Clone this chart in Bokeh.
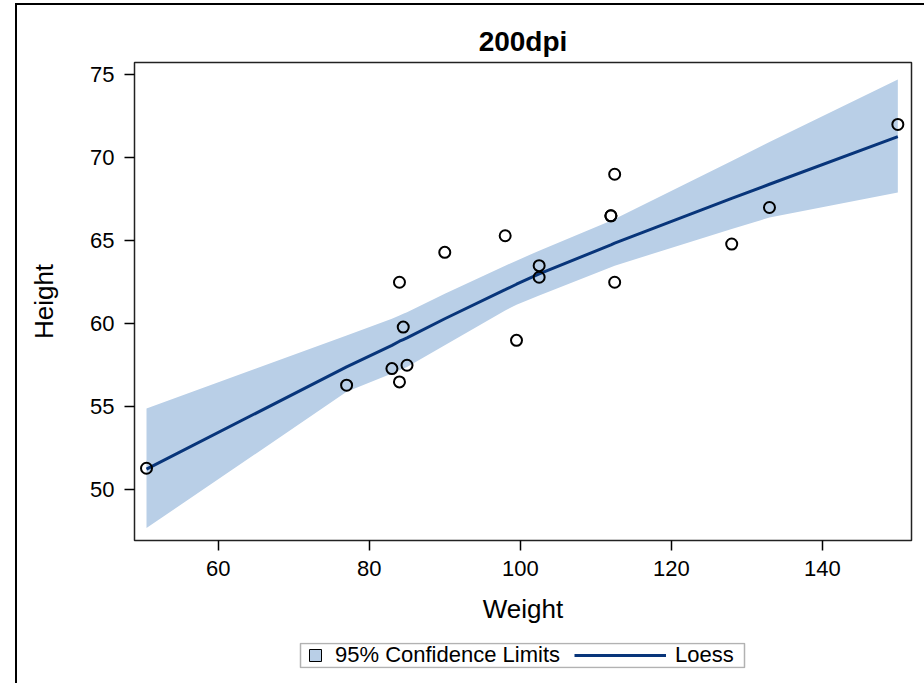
from bokeh.plotting import figure
from bokeh.layouts import column
from bokeh.models import (Range1d, Legend, LegendItem, ColumnDataSource, FixedTicker, Title,
                          BoxAnnotation)
from bokeh.embed import file_html
from bokeh.resources import INLINE

# ---- data (sashelp.class) ----
weight = [112.5, 84, 98, 102.5, 102.5, 83, 84.5, 112.5, 84, 99.5,
          50.5, 90, 77, 112, 150, 128, 133, 85, 112]
height = [69, 56.5, 65.3, 62.8, 63.5, 57.3, 59.8, 62.5, 62.5, 59,
          51.3, 64.3, 56.3, 66.5, 72, 64.8, 67, 57.5, 66.5]

# ---- loess fit and 95% confidence limits ----
fit_x = [50.5, 77, 83, 84, 84.5, 85, 90, 98, 99.5, 102.5, 112, 112.5, 128, 133, 150]
fit_y = [51.25, 57.4, 58.7, 58.95, 59.05, 59.15, 60.3, 62.05, 62.38, 63.0,
         64.75, 64.85, 67.55, 68.4, 71.27]
upper = [54.9, 59.3, 60.3, 60.5, 60.6, 60.7, 61.8, 63.5, 63.8, 64.4,
         66.2, 66.3, 69.8, 70.95, 74.7]
lower = [47.7, 55.9, 57.0, 57.2, 57.3, 57.4, 58.7, 60.8, 61.15, 61.7,
         63.4, 63.5, 65.7, 66.4, 67.9]

x_ticks = [60, 80, 100, 120, 140]
y_ticks = [50, 55, 60, 65, 70, 75]

FONT = "Liberation Sans"
BAND = "#B9CFE7"
LINE = "#08357A"
BL, BR = 117, 13   # shared left/right borders (frames are aligned in the column)

p = figure(width=907, height=625, output_backend="svg", toolbar_location=None,
           x_range=Range1d(48.91, 151.81), y_range=Range1d(46.95, 75.73),
           min_border_left=BL, min_border_right=BR, min_border_top=57,
           min_border_bottom=90)
p.background_fill_color = "white"
p.border_fill_color = "white"
p.grid.visible = False
p.outline_line_color = "#222222"
p.outline_line_width = 1.5

p.title = Title(text="200dpi", align="center", text_font=FONT, text_font_size="28px",
                text_font_style="bold", text_color="black", standoff=11)

src_fit = ColumnDataSource(dict(x=fit_x, y=fit_y, lo=lower, hi=upper))
p.varea(x="x", y1="lo", y2="hi", source=src_fit, fill_color=BAND, fill_alpha=1)
p.line(x="x", y="y", source=src_fit, line_color=LINE, line_width=3)
p.scatter(x=weight, y=height, marker="circle", size=11, fill_color=None,
          line_color="black", line_width=2)

for ax, ticks in ((p.xaxis[0], x_ticks), (p.yaxis[0], y_ticks)):
    ax.ticker = FixedTicker(ticks=ticks)
    ax.axis_line_color = None
    ax.major_tick_line_color = "black"
    ax.major_tick_line_width = 1.5
    ax.major_tick_out = 10
    ax.major_tick_in = 0
    ax.minor_tick_line_color = None
    ax.major_label_text_font = FONT
    ax.major_label_text_font_size = "22px"
    ax.major_label_text_color = "black"
    ax.axis_label_text_font = FONT
    ax.axis_label_text_font_size = "26px"
    ax.axis_label_text_font_style = "normal"
    ax.axis_label_text_color = "black"
    ax.major_label_standoff = 10

p.xaxis[0].axis_label = "Weight"
p.yaxis[0].axis_label = "Height"
p.xaxis[0].axis_label_standoff = 15
p.yaxis[0].axis_label_standoff = 28

# ---- legend strip below the plot ----
lf = figure(width=907, height=53, output_backend="svg", toolbar_location=None,
            x_range=Range1d(0, 1), y_range=Range1d(0, 1),
            x_axis_type=None, y_axis_type=None,
            min_border_left=BL, min_border_right=BR, min_border_top=12,
            min_border_bottom=15)
lf.grid.visible = False
lf.background_fill_color = "white"
lf.border_fill_color = "white"
lf.outline_line_color = None

# legend proxies (their data lie outside this strip's ranges, so only the keys show)
band_key = lf.scatter(x=weight, y=height, marker="square", fill_color=BAND,
                      line_color="black", line_width=1)
line_key = lf.line(x=fit_x, y=fit_y, line_color=LINE, line_width=3)

lf.add_layout(BoxAnnotation(left=166, right=610, bottom=1, top=25,
                            left_units="screen", right_units="screen",
                            bottom_units="screen", top_units="screen",
                            fill_alpha=0, line_color="black", line_width=1.5))

common = dict(orientation="horizontal", padding=0, margin=0, border_line_color=None,
              background_fill_alpha=0, label_text_font=FONT, label_text_font_size="22px",
              label_text_color="black")
leg1 = Legend(items=[LegendItem(label="95% Confidence Limits", renderers=[band_key])],
              location=(166, -2), glyph_width=30, glyph_height=30, label_standoff=5,
              **common)
leg2 = Legend(items=[LegendItem(label="Loess", renderers=[line_key])],
              location=(440, -2), glyph_width=92, glyph_height=30, label_standoff=9,
              **common)
lf.add_layout(leg1)
lf.add_layout(leg2)

page = column(p, lf, spacing=0, margin=(3, 0, 0, 15),
              styles={"border-left": "2px solid black", "border-top": "2px solid black"})

open("out.html", "w").write(file_html(page, INLINE))
